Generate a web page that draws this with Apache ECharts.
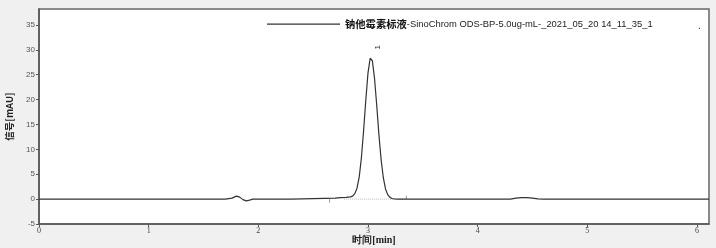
<!DOCTYPE html>
<html>
<head>
<meta charset="utf-8">
<script src="https://cdn.jsdelivr.net/npm/echarts@6/dist/echarts.min.js"></script>
<style>
html,body{margin:0;padding:0;background:#f0f0f0;}
#c{width:716px;height:248px;}
</style>
</head>
<body>
<div id="c"></div>
<script>
// ---- data ----
const seriesName = '钠他霉素标液-SinoChrom ODS-BP-5.0ug-mL-_2021_05_20 14_11_35_1';
const timeMin = [0, 0.5, 1.0, 1.5, 1.7, 1.76, 1.80, 1.83, 1.86, 1.89, 1.92, 1.95, 2.0, 2.3, 2.4, 2.5, 2.6, 2.7, 2.75, 2.80, 2.84, 2.86, 2.88, 2.90, 2.92, 2.94, 2.96, 2.98, 3.00, 3.02, 3.03, 3.04, 3.06, 3.08, 3.10, 3.12, 3.14, 3.16, 3.18, 3.20, 3.22, 3.24, 3.28, 3.35, 3.5, 4.0, 4.3, 4.35, 4.40, 4.45, 4.50, 4.55, 4.6, 5.0, 5.5, 6.0, 6.11];
const signal  = [0, 0, 0, 0, 0, 0.2, 0.6, 0.4, -0.1, -0.35, -0.2, 0, 0, 0, 0.05, 0.1, 0.15, 0.2, 0.3, 0.35, 0.45, 0.6, 1.1, 2.2, 4.4, 8.3, 13.7, 19.8, 25.3, 28.3, 28.5, 27.8, 24.2, 18.8, 12.9, 7.9, 4.3, 2.05, 0.9, 0.35, 0.12, 0.04, 0, 0, 0, 0, 0, 0.2, 0.3, 0.3, 0.2, 0.05, 0, 0, 0, 0, 0];
const peakLabels = [{t: 3.03, v: 28.5, name: '1'}];
const integStart = [2.78, 0];
const integEnd = [3.33, 0];
const markerA = [[2.65, 0], [2.65, -0.7]];
const markerB = [[3.35, 0], [3.35, 0.7]];
const xTicks = {min: 0, max: 6.11, interval: 1};
const yTicks = {min: -5, max: 38.2, interval: 5};

const mainData = timeMin.map((t, i) => [t, signal[i]]);

const chart = echarts.init(document.getElementById('c'));
chart.setOption({
  backgroundColor: '#f0f0f0',
  animation: false,
  grid: {left: 39, right: 7, top: 9, bottom: 24, outerBoundsMode: 'none', containLabel: false, show: true, backgroundColor: '#ffffff', borderColor: '#666', borderWidth: 1.5},
  legend: {
    data: [seriesName],
    left: 267, top: 19, padding: 0,
    icon: 'rect',
    itemWidth: 73, itemHeight: 1.3, itemGap: 5,
    itemStyle: {color: '#333'},
    formatter: function () {
      return '{b|钠他霉素标液}{r|-SinoChrom ODS-BP-5.0ug-mL-_2021_05_20 14_11_35_1}';
    },
    textStyle: {
      padding: [0, 0, 0, 0],
      rich: {
        b: {fontFamily: 'Noto Sans CJK SC', fontWeight: 'bold', fontSize: 10.3, color: '#111'},
        r: {fontFamily: 'Liberation Sans', fontSize: 9.4, color: '#222'}
      }
    }
  },
  xAxis: {
    type: 'value', min: xTicks.min, max: xTicks.max, interval: xTicks.interval,
    name: '时间[min]', nameLocation: 'middle', nameGap: 11, nameMoveOverlap: false,
    nameTextStyle: {fontFamily: 'Liberation Serif', fontSize: 10, color: '#222', fontWeight: 'bold'},
    axisLine: {show: true, onZero: false, lineStyle: {color: '#555', width: 1.5}},
    axisTick: {show: true, length: 3, lineStyle: {color: '#555'}},
    axisLabel: {fontFamily: 'Liberation Serif', fontSize: 8, color: '#444', margin: 3, showMaxLabel: false},
    splitLine: {show: false}
  },
  yAxis: {
    type: 'value', min: yTicks.min, max: yTicks.max, interval: yTicks.interval,
    name: '信号[mAU]', nameLocation: 'middle', nameGap: 25, nameRotate: 90, nameMoveOverlap: false,
    nameTextStyle: {fontFamily: 'Noto Sans CJK SC', fontSize: 9.5, color: '#222', fontWeight: 'bold'},
    axisLine: {show: true, lineStyle: {color: '#555', width: 1.5}},
    axisTick: {show: true, length: 3, lineStyle: {color: '#555'}},
    axisLabel: {fontFamily: 'Liberation Sans', fontSize: 8, color: '#555', margin: 4, showMaxLabel: false},
    splitLine: {show: false}
  },
  series: [
    {
      name: 'integ', type: 'line', data: [integStart, integEnd], symbol: 'none', silent: true,
      lineStyle: {color: '#bbb', width: 1, type: 'dotted'}, z: 1
    },
    {
      name: 'mA', type: 'line', data: markerA, symbol: 'none', silent: true,
      lineStyle: {color: '#999', width: 1}, z: 1
    },
    {
      name: 'mB', type: 'line', data: markerB, symbol: 'none', silent: true,
      lineStyle: {color: '#999', width: 1}, z: 1
    },
    {
      name: seriesName, type: 'line', data: mainData, symbol: 'none',
      lineStyle: {color: '#333', width: 1.2}, itemStyle: {color: '#333'}, z: 3,
      markPoint: {
        symbol: 'circle', symbolSize: 0,
        data: peakLabels.map(p => ({coord: [p.t, p.v], value: p.name})),
        label: {show: true, formatter: '{c}', rotate: 90, offset: [10, 7], fontSize: 8, color: '#333', fontFamily: 'Liberation Sans'}
      }
    }
  ],
  graphic: [
    {type: 'text', left: 698, top: 21, style: {text: '.', fontSize: 10, fill: '#333'}}
  ]
});
</script>
</body>
</html>
